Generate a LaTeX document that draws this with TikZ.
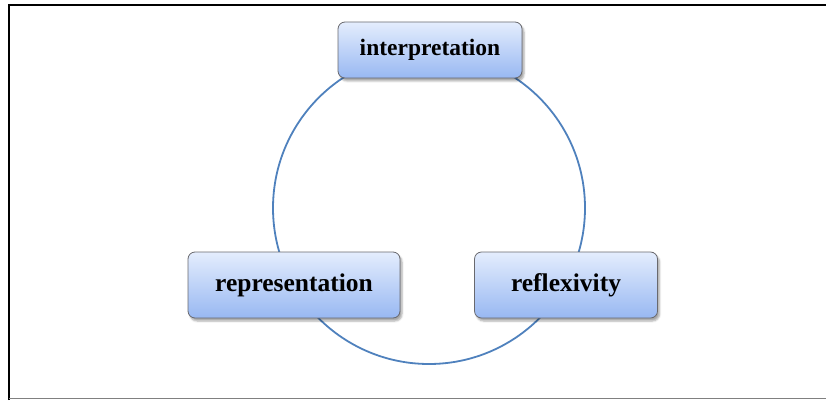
\documentclass[tikz,border=0pt]{standalone}
\usepackage{fontspec}
\setmainfont{Liberation Serif}
\usetikzlibrary{shadows.blur}
\definecolor{ringblue}{RGB}{79,129,189}
\definecolor{boxtop}{RGB}{228,237,253}
\definecolor{boxbot}{RGB}{152,184,242}
\definecolor{boxline}{RGB}{105,105,110}
\tikzset{
  frame/.style = {draw = #1, line width = 2pt},
  ring/.style = {draw = ringblue, line width = 1.8pt},
  stage/.style = {rounded corners = 7pt, draw = boxline, line width = .8pt,
    top color = boxtop, bottom color = boxbot, inner sep = 0pt,
    blur shadow = {shadow xshift = 2pt, shadow yshift = -3pt, shadow blur steps = 4, shadow opacity = 35},
    font = \bfseries, anchor = center}
}

\begin{document}
\begin{tikzpicture}[x=1pt,y=1pt]
  \useasboundingbox (0,0) rectangle (826,400);
  % frame
  \draw[frame=black] (9,0) -- (9,395) -- (826,395);
  \draw[draw=gray, line width = 1.5pt] (9,1.5) -- (826,1.5);
  % cycle
  \coordinate (c) at (429,192);
  \draw[ring] (c) circle (156);
  \node[stage, minimum width = 184pt, minimum height = 56pt, font = \bfseries\fontsize{23.5}{28}\selectfont] (interp) at (430,350) {interpretation};
  \node[stage, minimum width = 212pt, minimum height = 66pt, font = \bfseries\fontsize{25.5}{30}\selectfont] (repr) at (294,115) {representation};
  \node[stage, minimum width = 183pt, minimum height = 66pt, font = \bfseries\fontsize{25.5}{30}\selectfont] (refl) at (566,115) {reflexivity};
\end{tikzpicture}
\end{document}
